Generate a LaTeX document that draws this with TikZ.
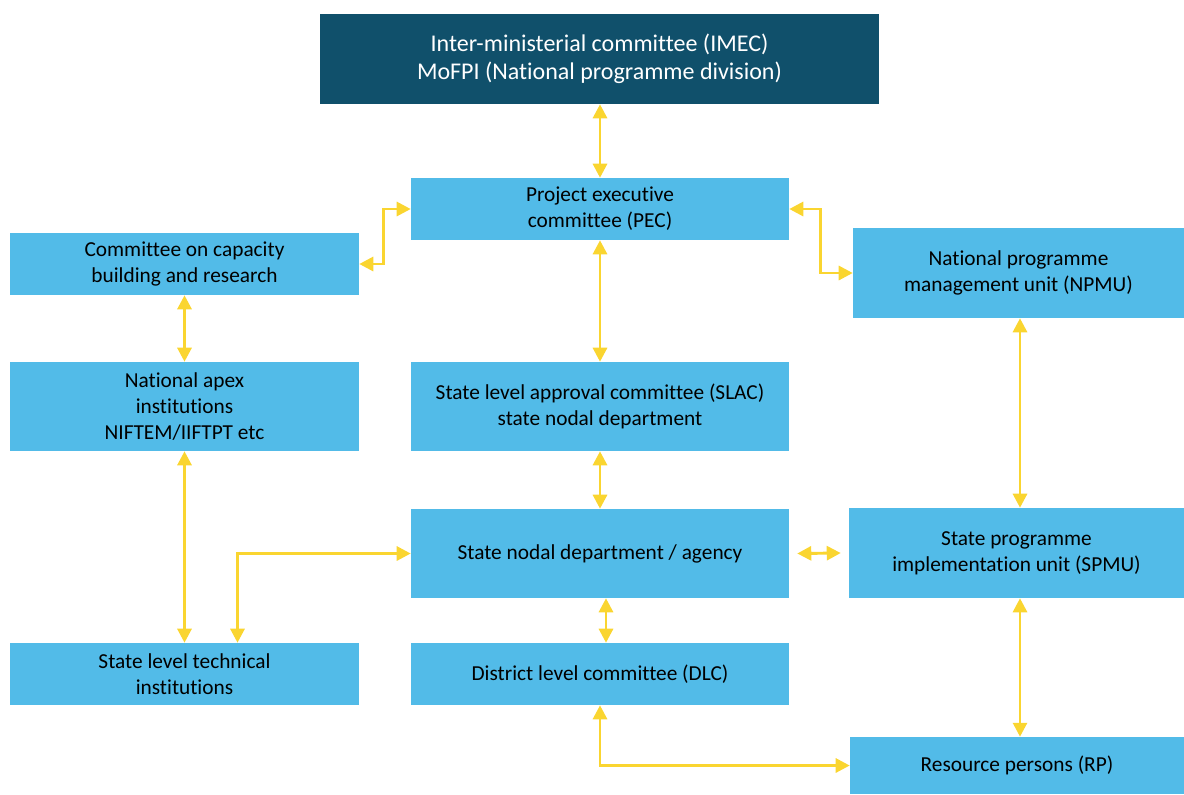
\documentclass[tikz,border=0pt]{standalone}
\usepackage{fontspec}
\setmainfont{Carlito}[Ligatures=NoCommon]
\usetikzlibrary{arrows.meta,calc}
\definecolor{boxblue}{RGB}{82,187,232}
\definecolor{darkteal}{RGB}{16,80,107}
\definecolor{arrowyellow}{RGB}{250,213,48}
\begin{document}
\begin{tikzpicture}[x=0.75pt,y=-0.75pt,
  box/.style={rectangle, fill=boxblue, inner sep=0pt, align=center, text=black,
    font=\fontsize{16}{19.5}\selectfont},
  topbox/.style={rectangle, fill=darkteal, inner sep=0pt, align=center, text=white,
    font=\fontsize{18}{21}\selectfont},
  link/.style={draw=arrowyellow, line width=2.2pt,
    {Triangle[length=10.5pt,width=10.5pt]}-{Triangle[length=10.5pt,width=10.5pt]}}
]
\useasboundingbox (0,0) rectangle (1184,794);
\node[topbox, minimum width=559*0.75pt, minimum height=90*0.75pt] (imec) at (599.5,59) {Inter-ministerial committee (IMEC)\\MoFPI (National programme division)};
\node[box, minimum width=378*0.75pt, minimum height=62*0.75pt] (pec) at (600,209) {Project executive\\committee (PEC)};
\node[box, minimum width=349*0.75pt, minimum height=62*0.75pt] (ccbr) at (184.5,264) {Committee on capacity\\building and research};
\node[box, minimum width=331*0.75pt, minimum height=90*0.75pt] (npmu) at (1018.5,273) {National programme\\management unit (NPMU)};
\node[box, minimum width=349*0.75pt, minimum height=89*0.75pt] (nai) at (184.5,406.5) {National apex\\institutions\\NIFTEM/IIFTPT etc};
\node[box, minimum width=378*0.75pt, minimum height=89*0.75pt] (slac) at (600,406.5) {State level approval committee (SLAC)\\state nodal department};
\node[box, minimum width=378*0.75pt, minimum height=89*0.75pt] (snd) at (600,553.5) {State nodal department / agency};
\node[box, minimum width=335*0.75pt, minimum height=90*0.75pt] (spmu) at (1016.5,553) {State programme\\implementation unit (SPMU)};
\node[box, minimum width=349*0.75pt, minimum height=62*0.75pt] (slti) at (184.5,674) {State level technical\\institutions};
\node[box, minimum width=378*0.75pt, minimum height=62*0.75pt] (dlc) at (600,674) {District level committee (DLC)};
\node[box, minimum width=334*0.75pt, minimum height=57*0.75pt] (rp) at (1017,765.5) {Resource persons (RP)};

\draw[link] (pec.north |- imec.south) -- (pec.north);
\draw[link] (pec.south) -- (slac.north);
\draw[link] (slac.south) -- (snd.north);
\draw[link] ($(snd.south)+(6,0)$) -- ($(dlc.north)+(6,0)$);
\draw[link] (pec.west) -- ++(-27,0) |- (ccbr.east);
\draw[link] (pec.east) -- ++(31,0) |- (npmu.west);
\draw[link] (ccbr.south) -- (nai.north);
\draw[link] (nai.south) -- (slti.north);
\draw[link] ($(slti.north)+(53,0)$) |- (snd.west);
\draw[link] ($(snd.east)+(8,0)$) -- ($(spmu.west)+(-8,0)$);
\draw[link] ($(npmu.south)+(1.5,0)$) -- ($(npmu.south |- spmu.north)+(1.5,0)$);
\draw[link] ($(spmu.south)+(3.5,0)$) -- ($(spmu.south |- rp.north)+(3.5,0)$);
\draw[link] (dlc.south) |- (rp.west);
\end{tikzpicture}
\end{document}
